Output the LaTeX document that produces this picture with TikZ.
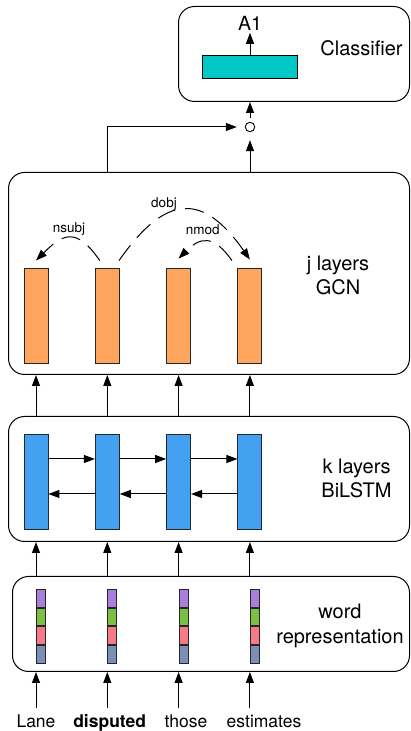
\documentclass[tikz,border=0pt]{standalone}
\usepackage{fontspec}
\setmainfont{TeX Gyre Heros}
\usetikzlibrary{arrows.meta,positioning}
\definecolor{clsteal}{RGB}{0,200,200}
\definecolor{gcnorange}{RGB}{255,165,94}
\definecolor{lstmblue}{RGB}{68,160,240}
\definecolor{wpurple}{RGB}{170,126,218}
\definecolor{wgreen}{RGB}{122,193,67}
\definecolor{wpink}{RGB}{247,122,138}
\definecolor{wslate}{RGB}{124,141,182}

\begin{document}
\begin{tikzpicture}[x=1pt,y=1pt,
	layerbox/.style={draw,line width=1pt,rounded corners=16pt,inner sep=0pt,anchor=south west},
	unit/.style={draw=black!85,line width=0.9pt,minimum width=24pt,minimum height=95pt,inner sep=0pt},
	seg/.style={draw=black!85,line width=0.9pt,minimum width=9pt,minimum height=17.75pt,inner sep=0pt},
	arr/.style={line width=1pt,-{Triangle[length=11pt,width=8pt]}},
	deparr/.style={line width=1pt,dash pattern=on 19pt off 10pt,-{Triangle[length=11pt,width=8pt]}},
	biglabel/.style={font=\fontsize{20}{24}\selectfont,align=center,inner sep=0pt},
	deplabel/.style={font=\fontsize{13.5}{16}\selectfont,inner sep=0pt},
	wordlabel/.style={font=\fontsize{17.5}{20}\selectfont,inner sep=0pt,anchor=base}]
	\useasboundingbox (0,0) rectangle (410,731);
	% the four layer boxes
	\node[layerbox,minimum width=231pt,minimum height=95pt] (cls) at (178,629) {};
	\node[layerbox,minimum width=401pt,minimum height=202pt] (gcn) at (8,356) {};
	\node[layerbox,minimum width=401pt,minimum height=125pt] (lstm) at (8,189) {};
	\node[layerbox,minimum width=397pt,minimum height=95pt] (emb) at (12,59) {};
	\node[biglabel] (clstext) at (361.5,683) {Classifier};
	\node[biglabel] (gcntext) at (338,456) {j layers\\GCN};
	\node[biglabel] (lstmtext) at (356.5,253) {k layers\\BiLSTM};
	\node[biglabel,font=\fontsize{20}{25}\selectfont] (embtext) at (340,105.6) {word\\representation};
	% classifier
	\node[draw,line width=0.9pt,fill=clsteal,minimum width=95pt,minimum height=23pt,inner sep=0pt] (hid) at (250,664.5) {};
	\node[biglabel,font=\fontsize{19.5}{24}\selectfont] (out) at (250,707.5) {A1};
	\draw[arr,shorten >=2pt] (hid.north) -- (out.south);
	\node[draw,circle,line width=0.9pt,minimum size=9.5pt,inner sep=0pt] (mix) at (250,604) {};
	\draw[arr,shorten <=4pt] (mix.north) -- (mix |- cls.south);
	\draw[arr,shorten >=8pt] (mix |- gcn.north) -- (mix.south);
	% columns
	\foreach \i/\x in {1/36,2/107.3,3/178.6,4/249.9} {
		\node[unit,fill=gcnorange] (g\i) at (\x,415.5) {};
		\node[unit,fill=lstmblue] (l\i) at (\x,249.5) {};
		\node[seg,fill=wpurple,anchor=north west] (p\i) at (\x,142) {};
		\node[seg,fill=wgreen,below=0pt of p\i] (gr\i) {};
		\node[seg,fill=wpink,below=0pt of gr\i] (pk\i) {};
		\node[seg,fill=wslate,below=0pt of pk\i] (sl\i) {};
		\draw[arr] (l\i |- lstm.north) -- (l\i |- gcn.south);
		\draw[arr] (l\i |- emb.north) -- (l\i |- lstm.south);
	}
	\draw[arr] (g2 |- gcn.north) |- ([xshift=-8pt]mix.west);
	% BiLSTM recurrences
	\foreach \i/\j in {1/2,2/3,3/4} {
		\draw[arr] ([yshift=22.5pt]l\i.east) -- ([yshift=22.5pt]l\j.west);
		\draw[arr] ([yshift=-12.5pt]l\j.west) -- ([yshift=-12.5pt]l\i.east);
	}
	% dependency arcs
	\draw[deparr] ([xshift=-7.5pt,yshift=7pt]g2.north) to[out=125,in=45,looseness=1.6] ([yshift=7pt]g1.north);
	\draw[deparr] ([xshift=11.7pt,yshift=7pt]g2.north) to[out=55,in=125,looseness=1.6] ([yshift=8pt]g4.north);
	\draw[deparr] ([xshift=-18pt,yshift=7pt]g4.north) to[out=125,in=45,looseness=1.5] ([yshift=9pt]g3.north);
	\node[deplabel] (nsubj) at (69,502) {nsubj};
	\node[deplabel] (dobj) at (164,526.5) {dobj};
	\node[deplabel] (nmod) at (202.7,501) {nmod};
	% input words
	\node[wordlabel] (w1) at (36,3) {Lane};
	\node[wordlabel] (w2) at (109.7,3) {\bfseries disputed};
	\node[wordlabel] (w3) at (186,3) {those};
	\node[wordlabel] (w4) at (264,3) {estimates};
	\foreach \i in {1,...,4}
		\draw[arr,shorten <=7pt] (l\i |- w\i.north) -- (l\i |- emb.south);
\end{tikzpicture}
\end{document}
